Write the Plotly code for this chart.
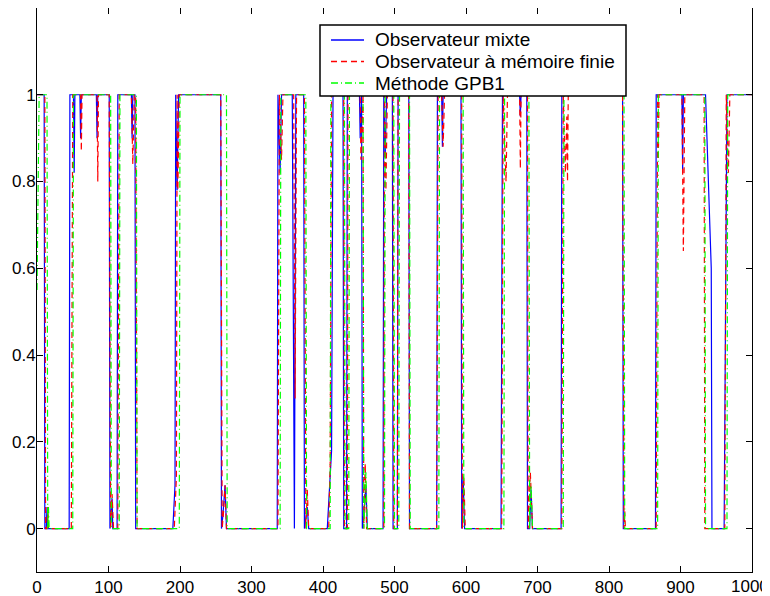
import plotly.graph_objects as go

# vertices (x = time step, y = probability)
mix_x = [0, 10, 11, 13, 14, 15, 45, 46, 51, 52, 53, 60, 61, 62, 83, 84, 85, 101, 102, 105, 106, 112, 113,
         132, 133, 134, 137, 138, 190, 193, 194, 196, 198, 257, 258, 260, 263, 265, 336, 337, 340, 342,
         357, 360, 362, 373, 374, 378, 380, 406, 412, 414, 428, 429, 433, 434, 451, 452, 454, 455, 458,
         460, 462, 484, 485, 487, 489, 497, 498, 504, 505, 520, 521, 559, 560, 566, 567, 568, 593, 594,
         596, 598, 649, 651, 675, 676, 677, 685, 686, 689, 691, 693, 733, 734, 819, 820, 865, 866, 902,
         903, 904, 935, 943, 944, 961, 965, 1000]
mix_y = [1, 1, 0, 0, 0.05, 0, 0, 1, 1, 0.82, 1, 1, 0.9, 1, 1, 0.9, 1, 1, 0, 0.07, 0, 0, 1,
         1, 0.9, 1, 1, 0, 0, 0.1, 1, 0.78, 1, 1, 0, 0.03, 0.1, 0, 0, 1, 0.82, 1,
         1, 0, 1, 1, 0, 0.05, 0, 0, 0.18, 1, 1, 0, 0, 1, 1, 0.9, 1, 0, 0.05,
         0.1, 0, 0, 1, 0.86, 1, 1, 0, 0, 1, 1, 0, 0, 1, 1, 0.88, 1, 1, 0,
         0.12, 0, 0, 1, 1, 0.95, 1, 1, 0, 0, 0.09, 0, 0, 1, 1, 0, 0, 1, 1,
         0.82, 1, 1, 0.6, 0, 0, 1, 1]

mem_x = [0, 11, 12, 14, 15, 16, 48, 50, 61, 62, 63, 84, 85, 86, 101, 103, 105, 107, 113, 115, 132, 134,
         136, 138, 140, 192, 195, 196, 197, 199, 257, 259, 261, 263, 265, 337, 339, 342, 344, 359, 361,
         363, 374, 376, 378, 380, 408, 410, 412, 429, 430, 434, 435, 452, 453, 455, 456, 457, 459, 461,
         485, 486, 488, 490, 498, 499, 504, 505, 520, 521, 559, 561, 566, 568, 570, 594, 595, 597, 599,
         650, 652, 656, 658, 675, 676, 677, 686, 687, 690, 693, 734, 736, 739, 741, 742, 743, 819, 821,
         822, 823, 866, 868, 869, 870, 902, 904, 906, 933, 934, 962, 964, 967, 969, 1000]
mem_y = [1, 1, 0, 0, 0.05, 0, 0, 1, 1, 0.87, 1, 1, 0.8, 1, 1, 0, 0.08, 0, 0, 1, 1, 0.84,
         1, 1, 0, 0, 0.12, 1, 0.78, 1, 1, 0, 0.04, 0.1, 0, 0, 1, 0.85, 1, 1, 0.3,
         1, 1, 0, 0.09, 0, 0, 0.15, 1, 1, 0, 0, 1, 1, 0.85, 1, 1, 0, 0.15, 0,
         0, 1, 0.78, 1, 1, 0, 0, 1, 1, 0, 0, 1, 1, 0.88, 1, 1, 0, 0.12, 0,
         0, 1, 0.8, 1, 1, 0.83, 1, 1, 0, 0.13, 0, 0, 1, 0.82, 0.95, 0.8, 1, 1, 0,
         0.04, 0, 0, 1, 0.85, 1, 1, 0.64, 1, 1, 0, 0, 1, 0.82, 1, 1]

gpb_x = [0, 1, 2, 3, 14, 15, 16, 17, 50, 51, 103, 104, 115, 116, 139, 140, 199, 200, 265, 266, 340, 341,
         376, 377, 410, 411, 430, 431, 436, 437, 456, 457, 460, 462, 486, 487, 499, 500, 506, 507, 521,
         522, 562, 563, 596, 597, 653, 654, 688, 689, 691, 693, 736, 737, 821, 822, 868, 869, 934, 935,
         965, 966, 1000]
gpb_y = [0.55, 0.7, 0.85, 1, 1, 0, 0.05, 0, 0, 1, 1, 0, 0, 1, 1, 0, 0, 1, 1, 0, 0, 1,
         1, 0, 0, 1, 1, 0, 0, 1, 1, 0, 0.13, 0, 0, 1, 1, 0, 0, 1, 1,
         0, 0, 1, 1, 0, 0, 1, 1, 0, 0.1, 0, 0, 1, 1, 0, 0, 1, 1, 0,
         0, 1, 1]

names = ["Observateur mixte", "Observateur à mémoire finie", "Méthode GPB1"]
colors = ["#0000ff", "#ff0000", "#00ff00"]
dashes = ["solid", "6px,4px", "7px,3px,1px,3px"]

x_ticks = [0, 100, 200, 300, 400, 500, 600, 700, 800, 900, 1000]
x_labels = ["0", "100", "200", "300", "400", "500", "600", "700", "800", "900", "1000"]
y_ticks = [0, 0.2, 0.4, 0.6, 0.8, 1]
y_labels = ["0", "0.2", "0.4", "0.6", "0.8", "1"]

# the page body adds an 8px margin, so shift the figure back by that much
OFF = 8
W, H = 770, 596 - OFF
L, R, T, B = 37 - OFF, 770 - 752 + OFF, 8 - OFF, 24
PL, PT, PW, PH = 37, 8, 715, 564  # plot area in window pixels

fig = go.Figure()
for xs, ys, nm, c, d in zip([mix_x, mem_x, gpb_x], [mix_y, mem_y, gpb_y], names, colors, dashes):
    fig.add_trace(go.Scatter(x=xs, y=ys, mode="lines", name=nm, showlegend=False,
                             line=dict(color=c, width=1.2, dash=d)))

axis_style = dict(showgrid=False, zeroline=False, showline=True, linecolor="black", linewidth=1,
                  mirror="ticks", ticks="inside", ticklen=6, tickcolor="black", automargin=False,
                  tickfont=dict(size=17, color="black"))

# plotly drops the last x label at the window edge, so it is written as a paper annotation below
fig.update_xaxes(range=[0, 1000], tickvals=x_ticks, ticktext=x_labels[:-1] + [""], **axis_style)
fig.update_yaxes(range=[-0.1, 1.2], tickvals=y_ticks, ticktext=y_labels, ticklabelstandoff=-3,
                 **axis_style)


# legend box drawn at the reference's pixel positions, MATLAB-style tight rows
def px(x):
    return (x - PL) / PW


def py(y):
    return (PT + PH - y) / PH


shapes = [dict(type="rect", xref="paper", yref="paper", x0=px(320), x1=px(626), y0=py(96), y1=py(25),
               line=dict(color="black", width=1.5), fillcolor="white", layer="above")]
annotations = []
for i, (nm, c, d) in enumerate(zip(names, colors, dashes)):
    row = 40 + i * 21.5
    shapes.append(dict(type="line", xref="paper", yref="paper", x0=px(331), x1=px(364),
                       y0=py(row), y1=py(row), line=dict(color=c, width=1.5, dash=d), layer="above"))
    annotations.append(dict(text=nm, xref="paper", yref="paper", x=px(373), y=py(row),
                            xanchor="left", yanchor="middle", showarrow=False,
                            font=dict(size=19, color="black")))

annotations.append(dict(text=x_labels[-1], xref="paper", yref="paper", x=1, y=0,
                        xanchor="center", yanchor="top", xshift=-2, yshift=-3, showarrow=False,
                        font=dict(size=17, color="black")))

fig.update_layout(
    width=W, height=H,
    margin=dict(l=L, r=R, t=T, b=B),
    paper_bgcolor="white", plot_bgcolor="white",
    font=dict(family="Liberation Sans, Arial, sans-serif", color="black"),
    showlegend=False,
    shapes=shapes, annotations=annotations,
)

fig.write_html("out.html")
